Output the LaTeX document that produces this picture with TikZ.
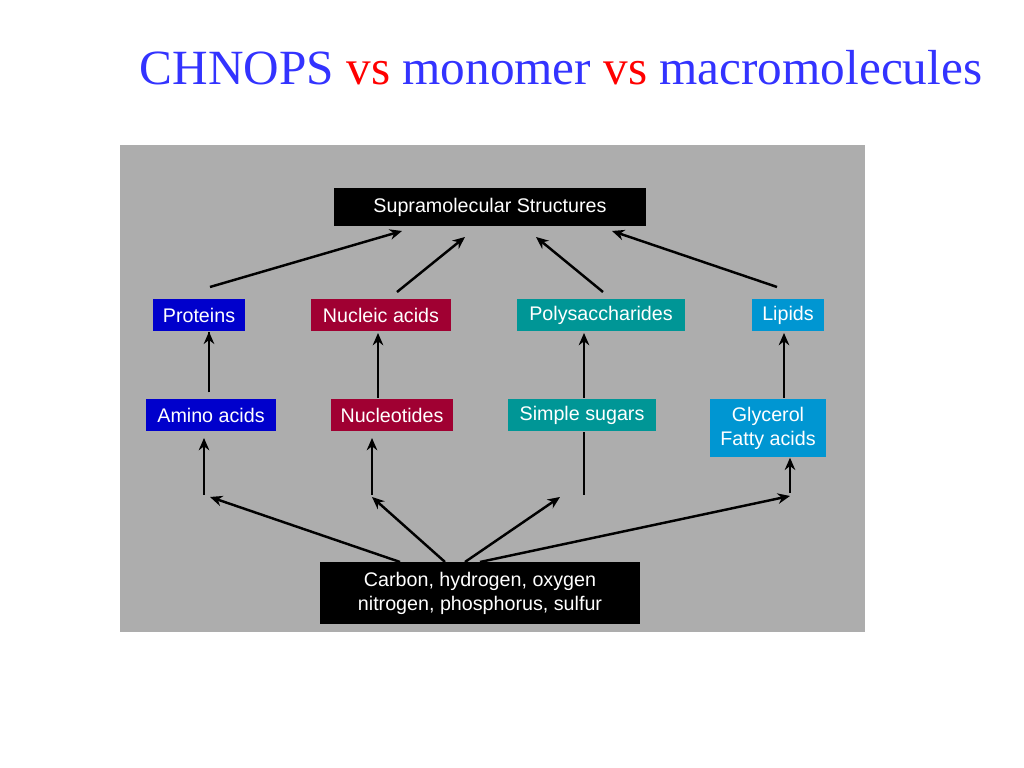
\documentclass[tikz,border=0pt]{standalone}
\usepackage{fontspec}
\setmainfont{Liberation Serif}
\setsansfont{Liberation Sans}
\usetikzlibrary{arrows.meta}
\definecolor{titleblue}{RGB}{51,51,255}
\definecolor{protblue}{RGB}{0,0,204}
\definecolor{nuclred}{RGB}{160,0,50}
\definecolor{sugteal}{RGB}{0,150,150}
\definecolor{lipblue}{RGB}{0,150,210}
\definecolor{panelgray}{RGB}{173,173,173}
\tikzset{
  box/.style={fill=#1, text=white, font=\sffamily\fontsize{5.6}{6.8}\selectfont,
    inner sep=0pt, minimum height=0.32cm, align=center},
  up/.style={-{Stealth[length=3.5pt,width=3pt]}, line width=0.7pt}
}
\begin{document}
\begin{tikzpicture}[x=0.01cm, y=-0.01cm]
    \useasboundingbox[fill=white] (0,0) rectangle (1024,768);
    % panel
    \fill[panelgray] (120,145) rectangle (865,632);

    % title
    \node (title) at (561,68) {\fontsize{14}{16}\selectfont\color{titleblue}CHNOPS
      \textcolor{red}{vs} monomer \textcolor{red}{vs} macromolecules};

    % top
    \node[box=black, minimum width=3.12cm, minimum height=0.38cm] (supra) at (490,207) {Supramolecular Structures};

    % macromolecules
    \node[box=protblue, minimum width=0.92cm] (prot) at (199,315) {Proteins};
    \node[box=nuclred, minimum width=1.40cm] (nucl) at (381,315) {Nucleic acids};
    \node[box=sugteal, minimum width=1.68cm] (poly) at (601,315) {Polysaccharides};
    \node[box=lipblue, minimum width=0.72cm] (lipid) at (788,315) {Lipids};

    % monomers
    \node[box=protblue, minimum width=1.30cm] (amino) at (211,415) {Amino acids};
    \node[box=nuclred, minimum width=1.22cm] (nuct) at (392,415) {Nucleotides};
    \node[box=sugteal, minimum width=1.48cm] (sugar) at (582,415) {Simple sugars};
    \node[box=lipblue, minimum width=1.16cm, minimum height=0.58cm] (glyc) at (768,428) {Glycerol\\Fatty acids};

    % elements
    \node[box=black, minimum width=3.20cm, minimum height=0.62cm] (chnops) at (480,593) {Carbon, hydrogen, oxygen\\nitrogen, phosphorus, sulfur};

    % macromolecules -> supramolecular
    \draw[up] (210,287) -- (402,231);
    \draw[up] (397,292) -- (465,237);
    \draw[up] (603,292) -- (536,237);
    \draw[up] (777,287) -- (612,231);

    % monomers -> macromolecules
    \draw[up] (amino.north -| prot) ++(10,-6) -- (prot.south -| 209,0) ++(0,0);
    \draw[up] (378,398) -- (378,333);
    \draw[up] (584,398) -- (584,333);
    \draw[up] (784,398) -- (784,333);

    % elements -> monomers
    \coordinate (j1) at (204,495);
    \coordinate (j2) at (372,495);
    \coordinate (j3) at (584,495);
    \coordinate (j4) at (790,493);
    \draw[up] (400,562) -- (210,497);
    \draw[up] (445,562) -- (372,497);
    \draw[up] (465,562) -- (560,497);
    \draw[up] (480,562) -- (790,496);
    \draw[up] (j1) -- (204,438);
    \draw[up] (j2) -- (372,438);
    \draw[line width=0.7pt] (j3) -- (sugar.south -| j3);
    \draw[up] (j4) -- (glyc.south -| j4);
\end{tikzpicture}
\end{document}
